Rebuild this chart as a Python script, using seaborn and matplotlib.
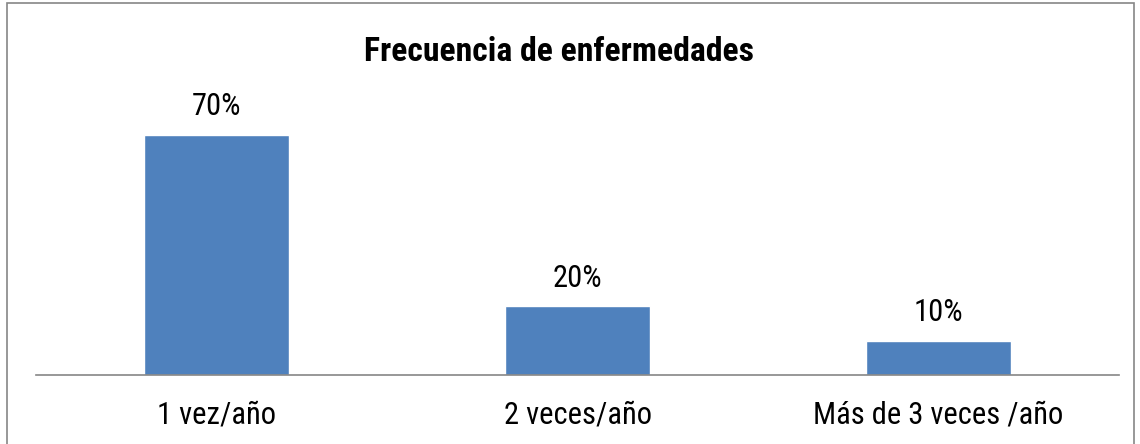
import matplotlib
matplotlib.use("Agg")
import matplotlib.pyplot as plt
from matplotlib.patches import Rectangle
import seaborn as sns
import pandas as pd

categories = ["1 vez/año", "2 veces/año", "Más de 3 veces /año"]
values = [70, 20, 10]
value_labels = ["70%", "20%", "10%"]
title = "Frecuencia de enfermedades"

sns.set_theme(style="white")
plt.rcParams["font.family"] = ["Roboto Condensed", "Archivo Narrow", "Liberation Sans", "DejaVu Sans"]

df = pd.DataFrame({"categoria": categories, "valor": values})

fig = plt.figure(figsize=(11.4, 4.44), dpi=100)
ax = fig.add_axes([36 / 1140, 69 / 444, (1119 - 36) / 1140, 274.3 / 444])

sns.barplot(data=df, x="categoria", y="valor", color="#4F81BD", saturation=1,
            width=0.4, ax=ax)

ax.set_ylim(0, 80)
ax.set_xlim(-0.5, 2.5)
ax.set_xlabel("")
ax.set_ylabel("")
ax.set_yticks([])
ax.tick_params(axis="x", length=0, labelsize=22, colors="black", pad=18)
for lab in ax.get_xticklabels():
    lab.set_color("black")

for side in ["top", "left", "right"]:
    ax.spines[side].set_visible(False)
ax.spines["bottom"].set_color("#868686")
ax.spines["bottom"].set_linewidth(1.2)

for container in ax.containers:
    ax.bar_label(container, labels=value_labels, padding=10, fontsize=22, color="black")

fig.text(559 / 1140, 1 - 52 / 444, title, ha="center", va="center",
         fontsize=24.3, fontweight="bold", color="black")

# outer frame around the chart area
fig.patches.append(Rectangle((7 / 1140, -0.01), 1127 / 1140, 1 - 3 / 444 + 0.01,
                             transform=fig.transFigure, fill=False,
                             edgecolor="#868686", linewidth=1.2))

fig.savefig("out.png", dpi=100)
